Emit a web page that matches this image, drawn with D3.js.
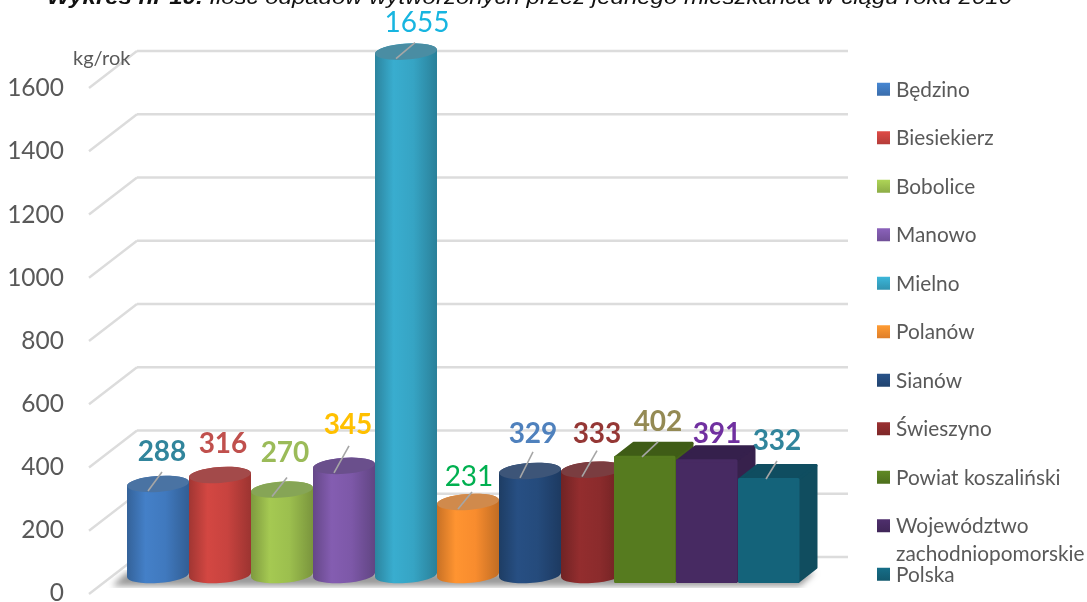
<!DOCTYPE html>
<html>
<head>
<meta charset="utf-8">
<script src="https://cdn.jsdelivr.net/npm/d3@7"></script>
<style>
  html, body { margin: 0; padding: 0; background: #fff; }
  svg { display: block; }
  text { font-family: Lato, sans-serif; }
</style>
</head>
<body>
<div id="chart"></div>
<script>
const titleBold = "Wykres nr 10.";
const titleRest = " Ilość odpadów wytworzonych przez jednego mieszkańca w ciągu roku 2010";
const unitLabel = "kg/rok";

const categories = ["Będzino", "Biesiekierz", "Bobolice", "Manowo", "Mielno", "Polanów", "Sianów", "Świeszyno", "Powiat koszaliński", "Województwo zachodniopomorskie", "Polska"];
const values = [288, 316, 270, 345, 1655, 231, 329, 333, 402, 391, 332];
const boxCategories = ["Powiat koszaliński", "Województwo zachodniopomorskie", "Polska"];
const yTicks = [0, 200, 400, 600, 800, 1000, 1200, 1400, 1600];

const barColors = ["#4079be", "#c8433f", "#9cbf4e", "#7d58a8", "#36a4c4", "#f88c2e", "#254b7c", "#8b2b2c", "#567b1f", "#472a62", "#14637a"];
const topColors = ["#4a73a3", "#a34a4a", "#86a556", "#6a4f8c", "#4a8da3", "#d08a4c", "#3d5578", "#7a3d40", "#3f5c16", "#35204c", "#0f4d60"];
const labelColors = ["#31859c", "#c0504d", "#9bbb59", "#ffc000", "#17b5e0", "#00b050", "#4f81bd", "#953735", "#948a54", "#7030a0", "#31859c"];

const width = 1087, height = 602;
const svg = d3.select("#chart").append("svg")
  .attr("width", width).attr("height", height)
  .style("filter", "blur(0.4px)");
const defs = svg.append("defs");

// scales: the back wall, the front tick labels and the bars each sit on their own plane
const x = d3.scaleBand().domain(categories).range([127, 809]);
const yBar = d3.scaleLinear().domain([0, 1600]).range([575, 69]);
const yWall = d3.scaleLinear().domain([0, 1600]).range([557, 51]);
const yFront = d3.scaleLinear().domain([0, 1600]).range([593, 88]);

const floorBlur = defs.append("filter").attr("id", "floor-blur");
floorBlur.append("feGaussianBlur").attr("stdDeviation", 3);

categories.forEach((c, i) => {
  const base = d3.color(barColors[i]);
  const grad = defs.append("linearGradient").attr("id", `cyl-${i}`);
  grad.append("stop").attr("offset", "0%").attr("stop-color", base.darker(0.6));
  grad.append("stop").attr("offset", "30%").attr("stop-color", base.brighter(0.15));
  grad.append("stop").attr("offset", "62%").attr("stop-color", base);
  grad.append("stop").attr("offset", "100%").attr("stop-color", base.darker(0.7));
  const swatch = defs.append("linearGradient").attr("id", `swatch-${i}`)
    .attr("x1", 0).attr("x2", 0).attr("y1", 0).attr("y2", 1);
  swatch.append("stop").attr("offset", "0%").attr("stop-color", base.brighter(0.3));
  swatch.append("stop").attr("offset", "100%").attr("stop-color", base.darker(0.3));
});

// title, cut by the top edge in the original
const title = svg.append("text")
  .attr("x", 47).attr("y", 4)
  .attr("font-size", 21)
  .attr("textLength", 965)
  .attr("lengthAdjust", "spacingAndGlyphs")
  .style("font-family", "'Liberation Sans', Arial, sans-serif")
  .style("font-style", "italic")
  .attr("fill", "#111");
title.append("tspan").attr("font-weight", "bold").text(titleBold);
title.append("tspan").text(titleRest);

// back wall lines and the diagonals running to the front
const grid = svg.append("g").attr("fill", "none").attr("stroke", "#dcdcdc").attr("stroke-width", 2.4);
grid.selectAll("line.wall").data(yTicks).join("line")
  .attr("class", "wall")
  .attr("x1", 137).attr("x2", 848)
  .attr("y1", d => yWall(d)).attr("y2", d => yWall(d));
grid.selectAll("line.side").data(yTicks).join("line")
  .attr("class", "side")
  .attr("x1", 137).attr("x2", 89)
  .attr("y1", d => yWall(d)).attr("y2", d => yWall(d) + 37);

// y labels
const yAxis = d3.axisLeft(yFront).tickValues(yTicks).tickFormat(d3.format("d")).tickSize(0).tickPadding(0);
const axisG = svg.append("g").attr("transform", "translate(64,0)").call(yAxis);
axisG.select(".domain").remove();
axisG.selectAll("text")
  .attr("font-size", 24.5)
  .attr("fill", "#595959")
  .style("font-family", "Lato, sans-serif");

svg.append("text").attr("x", 73).attr("y", 65)
  .attr("font-size", 20).attr("fill", "#595959").text(unitLabel);

// floor shadow
svg.append("path")
  .attr("d", d3.line()([[112, 586], [127, 572], [815, 572], [800, 586]]))
  .attr("fill", "#9a9a9a")
  .attr("filter", "url(#floor-blur)");

// bars
const rx = x.bandwidth() / 2, ry = 8, tilt = -4, lean = 2;
const depthX = 18, depthY = 14, boxShift = 9, boxBase = 8;

const isBox = c => boxCategories.includes(c);

const cylinders = svg.append("g").selectAll("g")
  .data(categories.filter(c => !isBox(c))).join("g");
cylinders.append("path")
  .attr("fill", c => `url(#cyl-${categories.indexOf(c)})`)
  .attr("d", c => {
    const cx = x(c) + rx, top = yBar(values[categories.indexOf(c)]), bot = yBar(0);
    return `M${cx - rx},${top + lean}L${cx - rx},${bot + lean}` +
      `A${rx},${ry} ${tilt} 0 0 ${cx + rx},${bot - lean}L${cx + rx},${top - lean}` +
      `A${rx},${ry} ${tilt} 0 0 ${cx - rx},${top + lean}Z`;
  });
cylinders.append("ellipse")
  .attr("fill", c => topColors[categories.indexOf(c)])
  .attr("rx", rx).attr("ry", ry)
  .attr("transform", c => `translate(${x(c) + rx},${yBar(values[categories.indexOf(c)])}) rotate(${tilt})`);

const boxes = svg.append("g").selectAll("g")
  .data(categories.filter(isBox)).join("g")
  .attr("stroke-linejoin", "round").attr("stroke-width", 3);
const boxFront = c => ({
  l: x(c) - boxShift + 1.5,
  r: x(c) - boxShift + x.bandwidth() - 2,
  t: yBar(values[categories.indexOf(c)]) + boxBase + 1.5,
  b: yBar(0) + boxBase - 1.5
});
boxes.append("path") // right side
  .attr("fill", c => d3.color(barColors[categories.indexOf(c)]).darker(0.7))
  .attr("stroke", c => d3.color(barColors[categories.indexOf(c)]).darker(0.7))
  .attr("d", c => {
    const f = boxFront(c);
    return d3.line()([[f.r, f.t], [f.r + depthX, f.t - depthY], [f.r + depthX, f.b - depthY], [f.r, f.b]]) + "Z";
  });
boxes.append("path") // top
  .attr("fill", c => topColors[categories.indexOf(c)])
  .attr("stroke", c => topColors[categories.indexOf(c)])
  .attr("d", c => {
    const f = boxFront(c);
    return d3.line()([[f.l, f.t], [f.l + depthX, f.t - depthY], [f.r + depthX, f.t - depthY], [f.r, f.t]]) + "Z";
  });
boxes.append("rect") // front
  .attr("fill", c => barColors[categories.indexOf(c)])
  .attr("stroke", c => barColors[categories.indexOf(c)])
  .attr("x", c => boxFront(c).l).attr("y", c => boxFront(c).t)
  .attr("width", c => boxFront(c).r - boxFront(c).l)
  .attr("height", c => boxFront(c).b - boxFront(c).t);

// hand placed data labels: [dx from band centre, gap above the bar top] and the leader line tip
const labelOffset = [[4, 23], [3, 22], [3, 28], [4, 32], [11, 20], [1, 16], [3, 28], [5, 27], [13, 25], [10, 16], [8, 28]];
const leaderTip = [[4, 12], [0, 0], [5, 12], [5, 20], [9, 9], [4, 10], [3, 19], [5, 19], [13, 14], [0, 0], [8, 17]];

const topOf = i => isBox(categories[i])
  ? yBar(values[i]) + boxBase
  : yBar(values[i]);
const centreOf = i => isBox(categories[i])
  ? x(categories[i]) - boxShift + rx
  : x(categories[i]) + rx;

svg.append("g").attr("stroke", "#a6a6a6").attr("stroke-width", 1.6)
  .selectAll("line").data(categories.map((c, i) => i).filter(i => leaderTip[i][1] > 0)).join("line")
  .attr("x1", i => centreOf(i) + (isBox(categories[i]) ? -3 : -10))
  .attr("y1", i => topOf(i) + (isBox(categories[i]) ? 1 : 7))
  .attr("x2", i => centreOf(i) + leaderTip[i][0])
  .attr("y2", i => topOf(i) - leaderTip[i][1]);

svg.append("g").attr("text-anchor", "middle").attr("font-size", 28)
  .selectAll("text").data(values).join("text")
  .attr("x", (d, i) => centreOf(i) + labelOffset[i][0])
  .attr("y", (d, i) => topOf(i) - labelOffset[i][1])
  .attr("fill", (d, i) => labelColors[i])
  .attr("font-weight", (d, i) => d === 1655 || d === 231 ? 400 : 700)
  .text(d => d);

// legend
const legendY = d3.scaleBand().domain(categories).range([65, 598.5]);
const legend = svg.append("g").selectAll("g").data(categories).join("g")
  .attr("transform", c => `translate(877,${legendY(c) + legendY.bandwidth() / 2})`);
legend.append("rect")
  .attr("x", 0).attr("y", -6.5).attr("width", 13).attr("height", 13)
  .attr("fill", c => `url(#swatch-${categories.indexOf(c)})`);
legend.append("text")
  .attr("x", 19).attr("y", 7.5)
  .attr("font-size", 20.8).attr("fill", "#595959")
  .each(function (c) {
    // only the long name wraps, its second line runs down into the Polska row
    const parts = c === "Województwo zachodniopomorskie" ? c.split(" ") : [c];
    d3.select(this).selectAll("tspan").data(parts).join("tspan")
      .attr("x", 19).attr("dy", (d, i) => i ? 28 : 0).text(d => d);
  });
</script>
</body>
</html>
